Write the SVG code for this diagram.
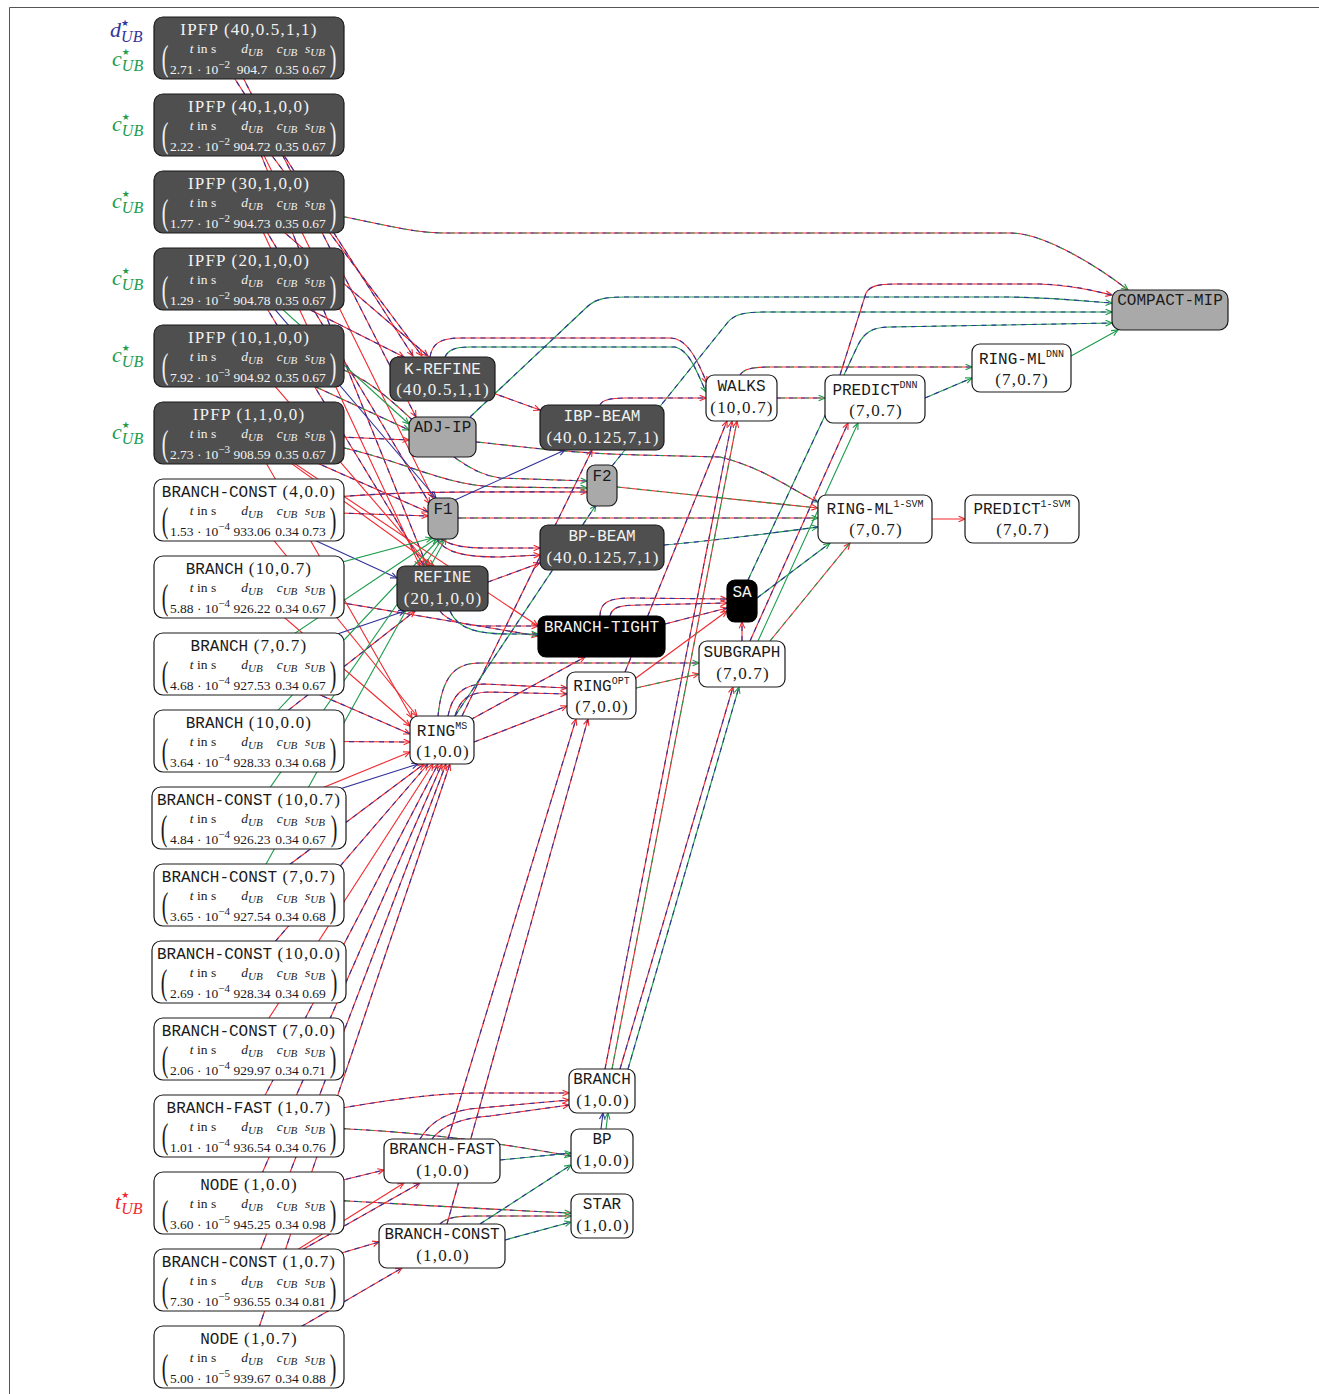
<svg xmlns="http://www.w3.org/2000/svg" xmlns:xlink="http://www.w3.org/1999/xlink" width="1319" height="1394" viewBox="0 0 1319 1394">
<style>
text{text-anchor:middle}
.e{fill:none;stroke-width:1.1}
.r{stroke:#f0282d}.b{stroke:#32329a}.g{stroke:#1c9c4c}
.d2{stroke-dasharray:5 5}.d3{stroke-dasharray:4 8}.o4{stroke-dashoffset:-4}
.mr{marker-end:url(#ar)}.mg{marker-end:url(#ag)}.mb{marker-end:url(#ab)}
.dk{fill:#4f4f4f;stroke:#1a1a1a;stroke-width:1.2}
.lt{fill:#a9a9a9;stroke:#1a1a1a;stroke-width:1.2}
.bk{fill:#000;stroke:#000;stroke-width:1.2}
.wh{fill:#fff;stroke:#1a1a1a;stroke-width:1.2}
.tw{font-family:"Liberation Mono","DejaVu Sans Mono",monospace;font-size:16px}
.rm{font-family:"Liberation Serif","DejaVu Serif",serif;font-size:17px;letter-spacing:1.2px}
.rm .tw{letter-spacing:0}
.mx{font-family:"Liberation Serif","DejaVu Serif",serif;font-size:13.5px}
.it{font-style:italic}
.sb{font-size:11px}
.sp{font-size:10px}
.pa{font-family:"Liberation Serif","DejaVu Serif",serif;font-size:36px}
.W{fill:#f2f2f2}.K{fill:#1a1a1a}
.lb{font-family:"Liberation Serif","DejaVu Serif",serif;font-style:italic;font-size:22px;text-anchor:start}
.st{font-family:"DejaVu Sans",sans-serif;font-size:9px;font-style:normal}.ub{font-size:16px}
</style>
<defs>
<marker id="ar" viewBox="0 0 10 10" refX="9" refY="5" markerWidth="8" markerHeight="8" markerUnits="userSpaceOnUse" orient="auto"><path d="M1 1.5L9 5L1 8.5" fill="none" stroke="#f0282d" stroke-width="1.4"/></marker>
<marker id="ag" viewBox="0 0 10 10" refX="9" refY="5" markerWidth="8" markerHeight="8" markerUnits="userSpaceOnUse" orient="auto"><path d="M1 1.5L9 5L1 8.5" fill="none" stroke="#1c9c4c" stroke-width="1.4"/></marker>
<marker id="ab" viewBox="0 0 10 10" refX="9" refY="5" markerWidth="8" markerHeight="8" markerUnits="userSpaceOnUse" orient="auto"><path d="M1 1.5L9 5L1 8.5" fill="none" stroke="#32329a" stroke-width="1.4"/></marker>
<path id="e01" d="M215 48L413 356"/>
<path id="e02" d="M228 48L416 417"/>
<path id="e03" d="M249 125L422 356"/>
<path id="e04" d="M249 125L427 566"/>
<path id="e05" d="M249 125L433 498"/>
<path id="e06" d="M249 202L428 356"/>
<path id="e07" d="M340 216C390 226 415 233 445 233L1010 233C1045 233 1100 268 1128 290"/>
<path id="e08" d="M249 202L420 566"/>
<path id="e09" d="M249 202L430 504"/>
<path id="e10" d="M249 279L404 357"/>
<path id="e11" d="M249 279L409 424"/>
<path id="e12" d="M249 279L424 566"/>
<path id="e13" d="M249 279L436 498"/>
<path id="e14" d="M249 356L409 430"/>
<path id="e15" d="M330 365C400 385 440 470 500 478L587 481"/>
<path id="e16" d="M249 356L430 566"/>
<path id="e18" d="M249 433L409 440"/>
<path id="e19" d="M330 445C400 458 440 486 500 487L587 488"/>
<path id="e21" d="M249 433L428 512"/>
<path id="e22" d="M249 433L434 566"/>
<path id="e23" d="M249 433L538 626"/>
<path id="e24" d="M249 433L412 718"/>
<path id="e25" d="M249 510L428 516"/>
<path id="e26" d="M300 500C400 490 480 492 587 492"/>
<path id="e28" d="M249 510L417 716"/>
<path id="e29" d="M249 510L397 578"/>
<path id="e30" d="M249 587L432 538"/>
<path id="e31" d="M249 587L410 726"/>
<path id="e32" d="M249 587L538 636"/>
<path id="e34" d="M249 664L437 538"/>
<path id="e35" d="M249 664L410 734"/>
<path id="e36" d="M249 664L405 611"/>
<path id="e37" d="M249 741L410 742"/>
<path id="e38" d="M249 741L440 538"/>
<path id="e39" d="M249 741L415 611"/>
<path id="e40" d="M249 818L410 752"/>
<path id="e41" d="M249 818L443 538"/>
<path id="e42" d="M249 818L418 764"/>
<path id="e43" d="M249 895L424 764"/>
<path id="e44" d="M249 895L446 538"/>
<path id="e45" d="M249 972L428 764"/>
<path id="e47" d="M249 1049L433 764"/>
<path id="e48" d="M249 1126L438 764"/>
<path id="e49" d="M330 1110C400 1098 440 1093 480 1093L569 1093"/>
<path id="e50" d="M330 1128C420 1132 480 1140 571 1156"/>
<path id="e51" d="M249 1203L442 764"/>
<path id="e52" d="M330 1200C420 1205 500 1210 571 1213"/>
<path id="e53" d="M249 1203L384 1170"/>
<path id="e54" d="M249 1280L404 1183"/>
<path id="e55" d="M249 1280L420 1183"/>
<path id="e56" d="M249 1280L379 1242"/>
<path id="e57" d="M249 1280L446 764"/>
<path id="e58" d="M249 1357L402 1268"/>
<path id="e59" d="M249 1357L450 764"/>
<path id="m01" d="M490 392L540 410"/>
<path id="m02" d="M430 357C432 344 440 338 460 338L670 338C690 338 700 368 707 383"/>
<path id="m03" d="M445 357C448 350 455 347 470 347L675 347C690 350 698 375 706 392"/>
<path id="m04" d="M470 417L588 306C596 299 605 297 625 297L1010 297C1060 298 1095 302 1112 303"/>
<path id="m05" d="M476 442C520 446 560 453 640 455L720 457C765 468 795 492 818 502"/>
<path id="m06" d="M612 466L728 322C735 314 745 312 765 312L1112 312"/>
<path id="m07" d="M600 405C602 400 610 398 625 398L706 398"/>
<path id="m08" d="M458 518L818 518"/>
<path id="m09" d="M440 538C450 546 465 548 485 548L540 548"/>
<path id="m10" d="M436 538C445 553 465 557 500 557L540 555"/>
<path id="m11" d="M455 500L565 450"/>
<path id="m12" d="M617 487L818 508"/>
<path id="m13" d="M664 545C720 540 780 532 818 527"/>
<path id="m14" d="M488 582L540 563"/>
<path id="m15" d="M440 611C448 622 465 626 490 626L538 626"/>
<path id="m16" d="M450 611C458 630 480 634 510 634L538 634"/>
<path id="m17" d="M600 616C600 602 610 598 630 598L727 599"/>
<path id="m18" d="M610 616C612 607 620 605 640 605L727 603"/>
<path id="m19" d="M665 624L727 608"/>
<path id="m20" d="M636 678L727 611"/>
<path id="m21" d="M742 641L742 622"/>
<path id="m22" d="M474 742L567 706"/>
<path id="m23" d="M455 716C460 700 468 692 490 692L567 694"/>
<path id="m24" d="M448 716C452 696 462 684 485 684L567 688"/>
<path id="m25" d="M438 716C442 676 455 663 480 663L699 663"/>
<path id="m26" d="M462 716L592 450"/>
<path id="m27" d="M455 716L596 505"/>
<path id="m28" d="M470 720L585 657"/>
<path id="m29" d="M636 688L699 674"/>
<path id="m30" d="M625 672L727 421"/>
<path id="m31" d="M757 598L830 543"/>
<path id="m32" d="M770 641L850 543"/>
<path id="m33" d="M750 641L848 423"/>
<path id="m34" d="M758 641L858 423"/>
<path id="m35" d="M748 580L858 345C864 333 872 327 890 327L1112 323"/>
<path id="m36" d="M777 398L825 398"/>
<path id="m37" d="M740 375C744 369 752 367 770 367L972 367"/>
<path id="m38" d="M925 398L972 378"/>
<path id="m39" d="M840 375L866 293C870 286 878 284 895 284L1040 284C1075 285 1098 292 1112 295"/>
<path id="m40" d="M1071 356L1118 330"/>
<path id="m41" d="M932 519L965 519"/>
<path id="m42" d="M605 1069L732 421"/>
<path id="m43" d="M612 1069L737 421"/>
<path id="m44" d="M620 1069L733 687"/>
<path id="m45" d="M628 1069L739 687"/>
<path id="m46" d="M601 1129L603 1113"/>
<path id="m47" d="M606 1129L608 1113"/>
<path id="m48" d="M420 1139C430 1122 448 1110 480 1108L569 1100"/>
<path id="m49" d="M432 1139C442 1126 460 1118 490 1116L569 1105"/>
<path id="m50" d="M500 1160L571 1153"/>
<path id="m51" d="M448 1139L576 719"/>
<path id="m52" d="M447 1224L588 719"/>
<path id="m53" d="M505 1240L571 1222"/>
<path id="m54" d="M440 1224C446 1218 455 1216 475 1216L571 1216"/>
<path id="m55" d="M480 1224L571 1165"/>
</defs>
<rect width="1319" height="1394" fill="#fff"/>
<path d="M9.5 1394V7.5H1319" fill="none" stroke="#555" stroke-width="1"/>

<g id="connectors">
<use href="#e01" class="e r mr"/><use href="#e01" class="e b d2"/>
<use href="#e02" class="e r mr"/><use href="#e02" class="e b d2"/>
<use href="#e03" class="e r mr"/><use href="#e03" class="e b d2"/>
<use href="#e04" class="e r mr"/><use href="#e04" class="e b d2"/>
<use href="#e05" class="e r mr"/>
<use href="#e06" class="e r mr"/><use href="#e06" class="e b d2"/>
<use href="#e07" class="e r mg"/><use href="#e07" class="e b d3"/><use href="#e07" class="e g d3 o4"/>
<use href="#e08" class="e r mr"/>
<use href="#e09" class="e r mr"/><use href="#e09" class="e b d2"/>
<use href="#e10" class="e r mr"/><use href="#e10" class="e b d2"/>
<use href="#e11" class="e g mg"/>
<use href="#e12" class="e r mr"/><use href="#e12" class="e b d2"/>
<use href="#e13" class="e b mb"/>
<use href="#e14" class="e r mg"/><use href="#e14" class="e b d3"/><use href="#e14" class="e g d3 o4"/>
<use href="#e15" class="e r mg"/><use href="#e15" class="e b d3"/><use href="#e15" class="e g d3 o4"/>
<use href="#e16" class="e r mr"/>
<use href="#e18" class="e r mr"/><use href="#e18" class="e b d2"/>
<use href="#e19" class="e r mg"/><use href="#e19" class="e b d3"/><use href="#e19" class="e g d3 o4"/>
<use href="#e21" class="e r mr"/><use href="#e21" class="e b d2"/>
<use href="#e22" class="e r mr"/>
<use href="#e23" class="e r mr"/>
<use href="#e24" class="e r mr"/>
<use href="#e25" class="e r mr"/><use href="#e25" class="e b d2"/>
<use href="#e26" class="e r mr"/><use href="#e26" class="e b d2"/>
<use href="#e28" class="e r mr"/>
<use href="#e29" class="e b mb"/>
<use href="#e30" class="e g mg"/>
<use href="#e31" class="e r mr"/>
<use href="#e32" class="e r mr"/><use href="#e32" class="e b d2"/>
<use href="#e34" class="e g mg"/>
<use href="#e35" class="e r mr"/><use href="#e35" class="e b d2"/>
<use href="#e36" class="e b mb"/>
<use href="#e37" class="e r mr"/><use href="#e37" class="e b d2"/>
<use href="#e38" class="e g mg"/>
<use href="#e39" class="e r mr"/><use href="#e39" class="e b d2"/>
<use href="#e40" class="e r mr"/>
<use href="#e41" class="e g mg"/>
<use href="#e42" class="e b mb"/>
<use href="#e43" class="e r mr"/><use href="#e43" class="e b d2"/>
<use href="#e44" class="e g mg"/>
<use href="#e45" class="e r mr"/><use href="#e45" class="e b d2"/>
<use href="#e47" class="e r mr"/>
<use href="#e48" class="e r mr"/><use href="#e48" class="e b d2"/>
<use href="#e49" class="e r mr"/><use href="#e49" class="e b d2"/>
<use href="#e50" class="e r mg"/><use href="#e50" class="e b d3"/><use href="#e50" class="e g d3 o4"/>
<use href="#e51" class="e r mr"/><use href="#e51" class="e b d2"/>
<use href="#e52" class="e r mg"/><use href="#e52" class="e b d3"/><use href="#e52" class="e g d3 o4"/>
<use href="#e53" class="e r mr"/><use href="#e53" class="e b d2"/>
<use href="#e54" class="e r mr"/>
<use href="#e55" class="e r mr"/><use href="#e55" class="e b d2"/>
<use href="#e56" class="e r mr"/><use href="#e56" class="e b d2"/>
<use href="#e57" class="e r mr"/><use href="#e57" class="e b d2"/>
<use href="#e58" class="e r mr"/><use href="#e58" class="e b d2"/>
<use href="#e59" class="e r mr"/><use href="#e59" class="e b d2"/>
<use href="#m01" class="e r mr"/><use href="#m01" class="e b d2"/>
<use href="#m02" class="e r mr"/><use href="#m02" class="e b d2"/>
<use href="#m03" class="e g mg"/><use href="#m03" class="e b d2"/>
<use href="#m04" class="e g mg"/><use href="#m04" class="e b d2"/>
<use href="#m05" class="e r mg"/><use href="#m05" class="e b d3"/><use href="#m05" class="e g d3 o4"/>
<use href="#m06" class="e g mg"/><use href="#m06" class="e b d2"/>
<use href="#m07" class="e r mr"/><use href="#m07" class="e b d2"/>
<use href="#m08" class="e r mg"/><use href="#m08" class="e b d3"/><use href="#m08" class="e g d3 o4"/>
<use href="#m09" class="e r mr"/><use href="#m09" class="e b d2"/>
<use href="#m10" class="e r mr"/><use href="#m10" class="e b d2"/>
<use href="#m11" class="e b mb"/>
<use href="#m12" class="e r mr"/><use href="#m12" class="e g d2"/>
<use href="#m13" class="e g mg"/><use href="#m13" class="e b d2"/>
<use href="#m14" class="e r mr"/><use href="#m14" class="e b d2"/>
<use href="#m15" class="e r mr"/><use href="#m15" class="e b d2"/>
<use href="#m16" class="e g mg"/><use href="#m16" class="e b d2"/>
<use href="#m17" class="e r mr"/><use href="#m17" class="e b d2"/>
<use href="#m18" class="e r mr"/><use href="#m18" class="e b d2"/>
<use href="#m19" class="e r mr"/><use href="#m19" class="e b d2"/>
<use href="#m20" class="e r mr"/>
<use href="#m21" class="e r mr"/><use href="#m21" class="e b d2"/>
<use href="#m22" class="e r mr"/><use href="#m22" class="e b d2"/>
<use href="#m23" class="e r mr"/><use href="#m23" class="e b d2"/>
<use href="#m24" class="e r mr"/><use href="#m24" class="e b d2"/>
<use href="#m25" class="e r mg"/><use href="#m25" class="e b d3"/><use href="#m25" class="e g d3 o4"/>
<use href="#m26" class="e r mr"/><use href="#m26" class="e b d2"/>
<use href="#m27" class="e g mg"/><use href="#m27" class="e b d2"/>
<use href="#m28" class="e r mr"/><use href="#m28" class="e b d2"/>
<use href="#m29" class="e r mr"/><use href="#m29" class="e g d2"/>
<use href="#m30" class="e r mr"/><use href="#m30" class="e b d2"/>
<use href="#m31" class="e g mg"/><use href="#m31" class="e b d2"/>
<use href="#m32" class="e r mr"/><use href="#m32" class="e g d2"/>
<use href="#m33" class="e r mr"/><use href="#m33" class="e b d2"/>
<use href="#m34" class="e g mg"/>
<use href="#m35" class="e g mg"/><use href="#m35" class="e b d2"/>
<use href="#m36" class="e r mg"/><use href="#m36" class="e b d3"/><use href="#m36" class="e g d3 o4"/>
<use href="#m37" class="e r mg"/><use href="#m37" class="e b d3"/><use href="#m37" class="e g d3 o4"/>
<use href="#m38" class="e g mg"/><use href="#m38" class="e b d2"/>
<use href="#m39" class="e r mr"/><use href="#m39" class="e b d2"/>
<use href="#m40" class="e g mg"/>
<use href="#m41" class="e r mr"/>
<use href="#m42" class="e r mr"/><use href="#m42" class="e b d2"/>
<use href="#m43" class="e r mr"/><use href="#m43" class="e g d2"/>
<use href="#m44" class="e r mr"/><use href="#m44" class="e b d2"/>
<use href="#m45" class="e g mg"/><use href="#m45" class="e b d2"/>
<use href="#m46" class="e b mb"/>
<use href="#m47" class="e g mg"/>
<use href="#m48" class="e r mr"/><use href="#m48" class="e b d2"/>
<use href="#m49" class="e r mr"/><use href="#m49" class="e b d2"/>
<use href="#m50" class="e g mg"/><use href="#m50" class="e b d2"/>
<use href="#m51" class="e r mr"/><use href="#m51" class="e b d2"/>
<use href="#m52" class="e r mr"/><use href="#m52" class="e b d2"/>
<use href="#m53" class="e g mg"/><use href="#m53" class="e b d2"/>
<use href="#m54" class="e r mg"/><use href="#m54" class="e b d3"/><use href="#m54" class="e g d3 o4"/>
<use href="#m55" class="e g mg"/><use href="#m55" class="e b d2"/>
</g>

<g id="labels">
<text class="lb" x="110" y="37" fill="#34349c">d<tspan class="st" dy="-11">★</tspan><tspan class="ub" dx="-8" dy="16">UB</tspan></text>
<text class="lb" x="112" y="66" fill="#1c9c4c">c<tspan class="st" dy="-11">★</tspan><tspan class="ub" dx="-8" dy="16">UB</tspan></text>
<text class="lb" x="112" y="131" fill="#1c9c4c">c<tspan class="st" dy="-11">★</tspan><tspan class="ub" dx="-8" dy="16">UB</tspan></text>
<text class="lb" x="112" y="208" fill="#1c9c4c">c<tspan class="st" dy="-11">★</tspan><tspan class="ub" dx="-8" dy="16">UB</tspan></text>
<text class="lb" x="112" y="285" fill="#1c9c4c">c<tspan class="st" dy="-11">★</tspan><tspan class="ub" dx="-8" dy="16">UB</tspan></text>
<text class="lb" x="112" y="362" fill="#1c9c4c">c<tspan class="st" dy="-11">★</tspan><tspan class="ub" dx="-8" dy="16">UB</tspan></text>
<text class="lb" x="112" y="439" fill="#1c9c4c">c<tspan class="st" dy="-11">★</tspan><tspan class="ub" dx="-8" dy="16">UB</tspan></text>
<text class="lb" x="115" y="1209" fill="#f0282d">t<tspan class="st" dy="-11">★</tspan><tspan class="ub" dx="-8" dy="16">UB</tspan></text>
</g>

<g id="n-ipfp-40-05-1-1" transform="translate(154,17)">
<rect class="dk" width="190" height="62" rx="9"/>
<g class="W">
<text class="rm" x="95" y="18">IPFP (40,0.5,1,1)</text>
<text class="mx" x="49" y="36"><tspan class="it">t</tspan> in s</text>
<text class="mx it" x="98" y="36">d<tspan class="sb" dy="3">UB</tspan></text>
<text class="mx it" x="133" y="36">c<tspan class="sb" dy="3">UB</tspan></text>
<text class="mx it" x="161" y="36">s<tspan class="sb" dy="3">UB</tspan></text>
<text class="mx" x="46" y="57">2.71 · 10<tspan class="sb" dy="-6">−2</tspan></text>
<text class="mx" x="98" y="57">904.7</text><text class="mx" x="133" y="57">0.35</text><text class="mx" x="160" y="57">0.67</text>
<text class="pa" transform="translate(11,53) scale(0.55,1)">(</text><text class="pa" transform="translate(179,53) scale(0.55,1)">)</text>
</g></g>

<g id="n-ipfp-40-1-0-0" transform="translate(154,94)">
<rect class="dk" width="190" height="62" rx="9"/>
<g class="W">
<text class="rm" x="95" y="18">IPFP (40,1,0,0)</text>
<text class="mx" x="49" y="36"><tspan class="it">t</tspan> in s</text>
<text class="mx it" x="98" y="36">d<tspan class="sb" dy="3">UB</tspan></text>
<text class="mx it" x="133" y="36">c<tspan class="sb" dy="3">UB</tspan></text>
<text class="mx it" x="161" y="36">s<tspan class="sb" dy="3">UB</tspan></text>
<text class="mx" x="46" y="57">2.22 · 10<tspan class="sb" dy="-6">−2</tspan></text>
<text class="mx" x="98" y="57">904.72</text><text class="mx" x="133" y="57">0.35</text><text class="mx" x="160" y="57">0.67</text>
<text class="pa" transform="translate(11,53) scale(0.55,1)">(</text><text class="pa" transform="translate(179,53) scale(0.55,1)">)</text>
</g></g>

<g id="n-ipfp-30-1-0-0" transform="translate(154,171)">
<rect class="dk" width="190" height="62" rx="9"/>
<g class="W">
<text class="rm" x="95" y="18">IPFP (30,1,0,0)</text>
<text class="mx" x="49" y="36"><tspan class="it">t</tspan> in s</text>
<text class="mx it" x="98" y="36">d<tspan class="sb" dy="3">UB</tspan></text>
<text class="mx it" x="133" y="36">c<tspan class="sb" dy="3">UB</tspan></text>
<text class="mx it" x="161" y="36">s<tspan class="sb" dy="3">UB</tspan></text>
<text class="mx" x="46" y="57">1.77 · 10<tspan class="sb" dy="-6">−2</tspan></text>
<text class="mx" x="98" y="57">904.73</text><text class="mx" x="133" y="57">0.35</text><text class="mx" x="160" y="57">0.67</text>
<text class="pa" transform="translate(11,53) scale(0.55,1)">(</text><text class="pa" transform="translate(179,53) scale(0.55,1)">)</text>
</g></g>

<g id="n-ipfp-20-1-0-0" transform="translate(154,248)">
<rect class="dk" width="190" height="62" rx="9"/>
<g class="W">
<text class="rm" x="95" y="18">IPFP (20,1,0,0)</text>
<text class="mx" x="49" y="36"><tspan class="it">t</tspan> in s</text>
<text class="mx it" x="98" y="36">d<tspan class="sb" dy="3">UB</tspan></text>
<text class="mx it" x="133" y="36">c<tspan class="sb" dy="3">UB</tspan></text>
<text class="mx it" x="161" y="36">s<tspan class="sb" dy="3">UB</tspan></text>
<text class="mx" x="46" y="57">1.29 · 10<tspan class="sb" dy="-6">−2</tspan></text>
<text class="mx" x="98" y="57">904.78</text><text class="mx" x="133" y="57">0.35</text><text class="mx" x="160" y="57">0.67</text>
<text class="pa" transform="translate(11,53) scale(0.55,1)">(</text><text class="pa" transform="translate(179,53) scale(0.55,1)">)</text>
</g></g>

<g id="n-ipfp-10-1-0-0" transform="translate(154,325)">
<rect class="dk" width="190" height="62" rx="9"/>
<g class="W">
<text class="rm" x="95" y="18">IPFP (10,1,0,0)</text>
<text class="mx" x="49" y="36"><tspan class="it">t</tspan> in s</text>
<text class="mx it" x="98" y="36">d<tspan class="sb" dy="3">UB</tspan></text>
<text class="mx it" x="133" y="36">c<tspan class="sb" dy="3">UB</tspan></text>
<text class="mx it" x="161" y="36">s<tspan class="sb" dy="3">UB</tspan></text>
<text class="mx" x="46" y="57">7.92 · 10<tspan class="sb" dy="-6">−3</tspan></text>
<text class="mx" x="98" y="57">904.92</text><text class="mx" x="133" y="57">0.35</text><text class="mx" x="160" y="57">0.67</text>
<text class="pa" transform="translate(11,53) scale(0.55,1)">(</text><text class="pa" transform="translate(179,53) scale(0.55,1)">)</text>
</g></g>

<g id="n-ipfp-1-1-0-0" transform="translate(154,402)">
<rect class="dk" width="190" height="62" rx="9"/>
<g class="W">
<text class="rm" x="95" y="18">IPFP (1,1,0,0)</text>
<text class="mx" x="49" y="36"><tspan class="it">t</tspan> in s</text>
<text class="mx it" x="98" y="36">d<tspan class="sb" dy="3">UB</tspan></text>
<text class="mx it" x="133" y="36">c<tspan class="sb" dy="3">UB</tspan></text>
<text class="mx it" x="161" y="36">s<tspan class="sb" dy="3">UB</tspan></text>
<text class="mx" x="46" y="57">2.73 · 10<tspan class="sb" dy="-6">−3</tspan></text>
<text class="mx" x="98" y="57">908.59</text><text class="mx" x="133" y="57">0.35</text><text class="mx" x="160" y="57">0.67</text>
<text class="pa" transform="translate(11,53) scale(0.55,1)">(</text><text class="pa" transform="translate(179,53) scale(0.55,1)">)</text>
</g></g>

<g id="n-bconst-4-00" transform="translate(154,479)">
<rect class="wh" width="190" height="62" rx="9"/>
<g class="K">
<text class="rm" x="95" y="18"><tspan class="tw">BRANCH-CONST</tspan> (4,0.0)</text>
<text class="mx" x="49" y="36"><tspan class="it">t</tspan> in s</text>
<text class="mx it" x="98" y="36">d<tspan class="sb" dy="3">UB</tspan></text>
<text class="mx it" x="133" y="36">c<tspan class="sb" dy="3">UB</tspan></text>
<text class="mx it" x="161" y="36">s<tspan class="sb" dy="3">UB</tspan></text>
<text class="mx" x="46" y="57">1.53 · 10<tspan class="sb" dy="-6">−4</tspan></text>
<text class="mx" x="98" y="57">933.06</text><text class="mx" x="133" y="57">0.34</text><text class="mx" x="160" y="57">0.73</text>
<text class="pa" transform="translate(11,53) scale(0.55,1)">(</text><text class="pa" transform="translate(179,53) scale(0.55,1)">)</text>
</g></g>

<g id="n-branch-10-07" transform="translate(154,556)">
<rect class="wh" width="190" height="62" rx="9"/>
<g class="K">
<text class="rm" x="95" y="18"><tspan class="tw">BRANCH</tspan> (10,0.7)</text>
<text class="mx" x="49" y="36"><tspan class="it">t</tspan> in s</text>
<text class="mx it" x="98" y="36">d<tspan class="sb" dy="3">UB</tspan></text>
<text class="mx it" x="133" y="36">c<tspan class="sb" dy="3">UB</tspan></text>
<text class="mx it" x="161" y="36">s<tspan class="sb" dy="3">UB</tspan></text>
<text class="mx" x="46" y="57">5.88 · 10<tspan class="sb" dy="-6">−4</tspan></text>
<text class="mx" x="98" y="57">926.22</text><text class="mx" x="133" y="57">0.34</text><text class="mx" x="160" y="57">0.67</text>
<text class="pa" transform="translate(11,53) scale(0.55,1)">(</text><text class="pa" transform="translate(179,53) scale(0.55,1)">)</text>
</g></g>

<g id="n-branch-7-07" transform="translate(154,633)">
<rect class="wh" width="190" height="62" rx="9"/>
<g class="K">
<text class="rm" x="95" y="18"><tspan class="tw">BRANCH</tspan> (7,0.7)</text>
<text class="mx" x="49" y="36"><tspan class="it">t</tspan> in s</text>
<text class="mx it" x="98" y="36">d<tspan class="sb" dy="3">UB</tspan></text>
<text class="mx it" x="133" y="36">c<tspan class="sb" dy="3">UB</tspan></text>
<text class="mx it" x="161" y="36">s<tspan class="sb" dy="3">UB</tspan></text>
<text class="mx" x="46" y="57">4.68 · 10<tspan class="sb" dy="-6">−4</tspan></text>
<text class="mx" x="98" y="57">927.53</text><text class="mx" x="133" y="57">0.34</text><text class="mx" x="160" y="57">0.67</text>
<text class="pa" transform="translate(11,53) scale(0.55,1)">(</text><text class="pa" transform="translate(179,53) scale(0.55,1)">)</text>
</g></g>

<g id="n-branch-10-00" transform="translate(154,710)">
<rect class="wh" width="190" height="62" rx="9"/>
<g class="K">
<text class="rm" x="95" y="18"><tspan class="tw">BRANCH</tspan> (10,0.0)</text>
<text class="mx" x="49" y="36"><tspan class="it">t</tspan> in s</text>
<text class="mx it" x="98" y="36">d<tspan class="sb" dy="3">UB</tspan></text>
<text class="mx it" x="133" y="36">c<tspan class="sb" dy="3">UB</tspan></text>
<text class="mx it" x="161" y="36">s<tspan class="sb" dy="3">UB</tspan></text>
<text class="mx" x="46" y="57">3.64 · 10<tspan class="sb" dy="-6">−4</tspan></text>
<text class="mx" x="98" y="57">928.33</text><text class="mx" x="133" y="57">0.34</text><text class="mx" x="160" y="57">0.68</text>
<text class="pa" transform="translate(11,53) scale(0.55,1)">(</text><text class="pa" transform="translate(179,53) scale(0.55,1)">)</text>
</g></g>

<g id="n-bconst-10-07" transform="translate(154,787)">
<rect class="wh" x="-2" width="194" height="62" rx="9"/>
<g class="K">
<text class="rm" x="95" y="18"><tspan class="tw">BRANCH-CONST</tspan> (10,0.7)</text>
<text class="mx" x="49" y="36"><tspan class="it">t</tspan> in s</text>
<text class="mx it" x="98" y="36">d<tspan class="sb" dy="3">UB</tspan></text>
<text class="mx it" x="133" y="36">c<tspan class="sb" dy="3">UB</tspan></text>
<text class="mx it" x="161" y="36">s<tspan class="sb" dy="3">UB</tspan></text>
<text class="mx" x="46" y="57">4.84 · 10<tspan class="sb" dy="-6">−4</tspan></text>
<text class="mx" x="98" y="57">926.23</text><text class="mx" x="133" y="57">0.34</text><text class="mx" x="160" y="57">0.67</text>
<text class="pa" transform="translate(10,53) scale(0.55,1)">(</text><text class="pa" transform="translate(180,53) scale(0.55,1)">)</text>
</g></g>

<g id="n-bconst-7-07" transform="translate(154,864)">
<rect class="wh" width="190" height="62" rx="9"/>
<g class="K">
<text class="rm" x="95" y="18"><tspan class="tw">BRANCH-CONST</tspan> (7,0.7)</text>
<text class="mx" x="49" y="36"><tspan class="it">t</tspan> in s</text>
<text class="mx it" x="98" y="36">d<tspan class="sb" dy="3">UB</tspan></text>
<text class="mx it" x="133" y="36">c<tspan class="sb" dy="3">UB</tspan></text>
<text class="mx it" x="161" y="36">s<tspan class="sb" dy="3">UB</tspan></text>
<text class="mx" x="46" y="57">3.65 · 10<tspan class="sb" dy="-6">−4</tspan></text>
<text class="mx" x="98" y="57">927.54</text><text class="mx" x="133" y="57">0.34</text><text class="mx" x="160" y="57">0.68</text>
<text class="pa" transform="translate(11,53) scale(0.55,1)">(</text><text class="pa" transform="translate(179,53) scale(0.55,1)">)</text>
</g></g>

<g id="n-bconst-10-00" transform="translate(154,941)">
<rect class="wh" x="-2" width="194" height="62" rx="9"/>
<g class="K">
<text class="rm" x="95" y="18"><tspan class="tw">BRANCH-CONST</tspan> (10,0.0)</text>
<text class="mx" x="49" y="36"><tspan class="it">t</tspan> in s</text>
<text class="mx it" x="98" y="36">d<tspan class="sb" dy="3">UB</tspan></text>
<text class="mx it" x="133" y="36">c<tspan class="sb" dy="3">UB</tspan></text>
<text class="mx it" x="161" y="36">s<tspan class="sb" dy="3">UB</tspan></text>
<text class="mx" x="46" y="57">2.69 · 10<tspan class="sb" dy="-6">−4</tspan></text>
<text class="mx" x="98" y="57">928.34</text><text class="mx" x="133" y="57">0.34</text><text class="mx" x="160" y="57">0.69</text>
<text class="pa" transform="translate(10,53) scale(0.55,1)">(</text><text class="pa" transform="translate(180,53) scale(0.55,1)">)</text>
</g></g>

<g id="n-bconst-7-00" transform="translate(154,1018)">
<rect class="wh" width="190" height="62" rx="9"/>
<g class="K">
<text class="rm" x="95" y="18"><tspan class="tw">BRANCH-CONST</tspan> (7,0.0)</text>
<text class="mx" x="49" y="36"><tspan class="it">t</tspan> in s</text>
<text class="mx it" x="98" y="36">d<tspan class="sb" dy="3">UB</tspan></text>
<text class="mx it" x="133" y="36">c<tspan class="sb" dy="3">UB</tspan></text>
<text class="mx it" x="161" y="36">s<tspan class="sb" dy="3">UB</tspan></text>
<text class="mx" x="46" y="57">2.06 · 10<tspan class="sb" dy="-6">−4</tspan></text>
<text class="mx" x="98" y="57">929.97</text><text class="mx" x="133" y="57">0.34</text><text class="mx" x="160" y="57">0.71</text>
<text class="pa" transform="translate(11,53) scale(0.55,1)">(</text><text class="pa" transform="translate(179,53) scale(0.55,1)">)</text>
</g></g>

<g id="n-bfast-1-07" transform="translate(154,1095)">
<rect class="wh" width="190" height="62" rx="9"/>
<g class="K">
<text class="rm" x="95" y="18"><tspan class="tw">BRANCH-FAST</tspan> (1,0.7)</text>
<text class="mx" x="49" y="36"><tspan class="it">t</tspan> in s</text>
<text class="mx it" x="98" y="36">d<tspan class="sb" dy="3">UB</tspan></text>
<text class="mx it" x="133" y="36">c<tspan class="sb" dy="3">UB</tspan></text>
<text class="mx it" x="161" y="36">s<tspan class="sb" dy="3">UB</tspan></text>
<text class="mx" x="46" y="57">1.01 · 10<tspan class="sb" dy="-6">−4</tspan></text>
<text class="mx" x="98" y="57">936.54</text><text class="mx" x="133" y="57">0.34</text><text class="mx" x="160" y="57">0.76</text>
<text class="pa" transform="translate(11,53) scale(0.55,1)">(</text><text class="pa" transform="translate(179,53) scale(0.55,1)">)</text>
</g></g>

<g id="n-node-1-00" transform="translate(154,1172)">
<rect class="wh" width="190" height="62" rx="9"/>
<g class="K">
<text class="rm" x="95" y="18"><tspan class="tw">NODE</tspan> (1,0.0)</text>
<text class="mx" x="49" y="36"><tspan class="it">t</tspan> in s</text>
<text class="mx it" x="98" y="36">d<tspan class="sb" dy="3">UB</tspan></text>
<text class="mx it" x="133" y="36">c<tspan class="sb" dy="3">UB</tspan></text>
<text class="mx it" x="161" y="36">s<tspan class="sb" dy="3">UB</tspan></text>
<text class="mx" x="46" y="57">3.60 · 10<tspan class="sb" dy="-6">−5</tspan></text>
<text class="mx" x="98" y="57">945.25</text><text class="mx" x="133" y="57">0.34</text><text class="mx" x="160" y="57">0.98</text>
<text class="pa" transform="translate(11,53) scale(0.55,1)">(</text><text class="pa" transform="translate(179,53) scale(0.55,1)">)</text>
</g></g>

<g id="n-bconst-1-07" transform="translate(154,1249)">
<rect class="wh" width="190" height="62" rx="9"/>
<g class="K">
<text class="rm" x="95" y="18"><tspan class="tw">BRANCH-CONST</tspan> (1,0.7)</text>
<text class="mx" x="49" y="36"><tspan class="it">t</tspan> in s</text>
<text class="mx it" x="98" y="36">d<tspan class="sb" dy="3">UB</tspan></text>
<text class="mx it" x="133" y="36">c<tspan class="sb" dy="3">UB</tspan></text>
<text class="mx it" x="161" y="36">s<tspan class="sb" dy="3">UB</tspan></text>
<text class="mx" x="46" y="57">7.30 · 10<tspan class="sb" dy="-6">−5</tspan></text>
<text class="mx" x="98" y="57">936.55</text><text class="mx" x="133" y="57">0.34</text><text class="mx" x="160" y="57">0.81</text>
<text class="pa" transform="translate(11,53) scale(0.55,1)">(</text><text class="pa" transform="translate(179,53) scale(0.55,1)">)</text>
</g></g>

<g id="n-node-1-07" transform="translate(154,1326)">
<rect class="wh" width="190" height="62" rx="9"/>
<g class="K">
<text class="rm" x="95" y="18"><tspan class="tw">NODE</tspan> (1,0.7)</text>
<text class="mx" x="49" y="36"><tspan class="it">t</tspan> in s</text>
<text class="mx it" x="98" y="36">d<tspan class="sb" dy="3">UB</tspan></text>
<text class="mx it" x="133" y="36">c<tspan class="sb" dy="3">UB</tspan></text>
<text class="mx it" x="161" y="36">s<tspan class="sb" dy="3">UB</tspan></text>
<text class="mx" x="46" y="57">5.00 · 10<tspan class="sb" dy="-6">−5</tspan></text>
<text class="mx" x="98" y="57">939.67</text><text class="mx" x="133" y="57">0.34</text><text class="mx" x="160" y="57">0.88</text>
<text class="pa" transform="translate(11,53) scale(0.55,1)">(</text><text class="pa" transform="translate(179,53) scale(0.55,1)">)</text>
</g></g>

<g id="n-krefine"><rect class="dk" x="390" y="357" width="105" height="44" rx="8"/><text class="tw W" x="442.5" y="374">K-REFINE</text><text class="rm W" x="443" y="395">(40,0.5,1,1)</text></g>
<g id="n-adjip"><rect class="lt" x="409" y="417" width="67" height="40" rx="8"/><text class="tw K" x="442.5" y="432">ADJ-IP</text></g>
<g id="n-ibpbeam"><rect class="dk" x="540" y="405" width="124" height="45" rx="8"/><text class="tw W" x="602" y="421">IBP-BEAM</text><text class="rm W" x="603" y="443">(40,0.125,7,1)</text></g>
<g id="n-f2"><rect class="lt" x="587" y="465" width="30" height="41" rx="8"/><text class="tw K" x="602" y="481">F2</text></g>
<g id="n-f1"><rect class="lt" x="428" y="498" width="30" height="41" rx="8"/><text class="tw K" x="443" y="514">F1</text></g>
<g id="n-bpbeam"><rect class="dk" x="540" y="525" width="124" height="45" rx="8"/><text class="tw W" x="602" y="541">BP-BEAM</text><text class="rm W" x="603" y="563">(40,0.125,7,1)</text></g>
<g id="n-refine"><rect class="dk" x="397" y="566" width="91" height="45" rx="8"/><text class="tw W" x="442.5" y="582">REFINE</text><text class="rm W" x="443" y="604">(20,1,0,0)</text></g>
<g id="n-btight"><rect class="bk" x="538" y="616" width="127" height="41" rx="8"/><text class="tw W" x="601.5" y="632">BRANCH-TIGHT</text></g>
<g id="n-sa"><rect class="bk" x="727" y="580" width="30" height="42" rx="8"/><text class="tw W" x="742" y="597">SA</text></g>
<g id="n-subgraph"><rect class="wh" x="699" y="641" width="86" height="46" rx="8"/><text class="tw K" x="742" y="657">SUBGRAPH</text><text class="rm K" x="743" y="679">(7,0.7)</text></g>
<g id="n-ringopt"><rect class="wh" x="567" y="672" width="69" height="47" rx="8"/><text class="tw K" x="601.5" y="691">RING<tspan class="sp" dy="-7">OPT</tspan></text><text class="rm K" x="602" y="712">(7,0.0)</text></g>
<g id="n-ringms"><rect class="wh" x="410" y="716" width="64" height="48" rx="8"/><text class="tw K" x="442" y="736">RING<tspan class="sp" dy="-7">MS</tspan></text><text class="rm K" x="443" y="757">(1,0.0)</text></g>
<g id="n-walks"><rect class="wh" x="706" y="375" width="71" height="46" rx="8"/><text class="tw K" x="741.5" y="391">WALKS</text><text class="rm K" x="742" y="413">(10,0.7)</text></g>
<g id="n-predictdnn"><rect class="wh" x="825" y="375" width="100" height="48" rx="8"/><text class="tw K" x="875" y="395">PREDICT<tspan class="sp" dy="-7">DNN</tspan></text><text class="rm K" x="876" y="416">(7,0.7)</text></g>
<g id="n-ringmldnn"><rect class="wh" x="972" y="344" width="99" height="48" rx="8"/><text class="tw K" x="1021.5" y="364">RING-ML<tspan class="sp" dy="-7">DNN</tspan></text><text class="rm K" x="1022" y="385">(7,0.7)</text></g>
<g id="n-compactmip"><rect class="lt" x="1112" y="290" width="116" height="40" rx="9"/><text class="tw K" x="1170" y="305">COMPACT-MIP</text></g>
<g id="n-ringml1svm"><rect class="wh" x="818" y="495" width="114" height="48" rx="8"/><text class="tw K" x="875" y="514">RING-ML<tspan class="sp" dy="-7">1-SVM</tspan></text><text class="rm K" x="876" y="535">(7,0.7)</text></g>
<g id="n-predict1svm"><rect class="wh" x="965" y="495" width="114" height="48" rx="8"/><text class="tw K" x="1022" y="514">PREDICT<tspan class="sp" dy="-7">1-SVM</tspan></text><text class="rm K" x="1023" y="535">(7,0.7)</text></g>
<g id="n-branch-1-00"><rect class="wh" x="569" y="1069" width="66" height="44" rx="8"/><text class="tw K" x="602" y="1084">BRANCH</text><text class="rm K" x="603" y="1106">(1,0.0)</text></g>
<g id="n-bp-1-00"><rect class="wh" x="571" y="1129" width="62" height="44" rx="8"/><text class="tw K" x="602" y="1144">BP</text><text class="rm K" x="603" y="1166">(1,0.0)</text></g>
<g id="n-star-1-00"><rect class="wh" x="571" y="1194" width="62" height="44" rx="8"/><text class="tw K" x="602" y="1209">STAR</text><text class="rm K" x="603" y="1231">(1,0.0)</text></g>
<g id="n-bfast-1-00"><rect class="wh" x="384" y="1139" width="116" height="44" rx="8"/><text class="tw K" x="442" y="1154">BRANCH-FAST</text><text class="rm K" x="443" y="1176">(1,0.0)</text></g>
<g id="n-bconst-1-00"><rect class="wh" x="379" y="1224" width="126" height="44" rx="8"/><text class="tw K" x="442" y="1239">BRANCH-CONST</text><text class="rm K" x="443" y="1261">(1,0.0)</text></g>
</svg>
